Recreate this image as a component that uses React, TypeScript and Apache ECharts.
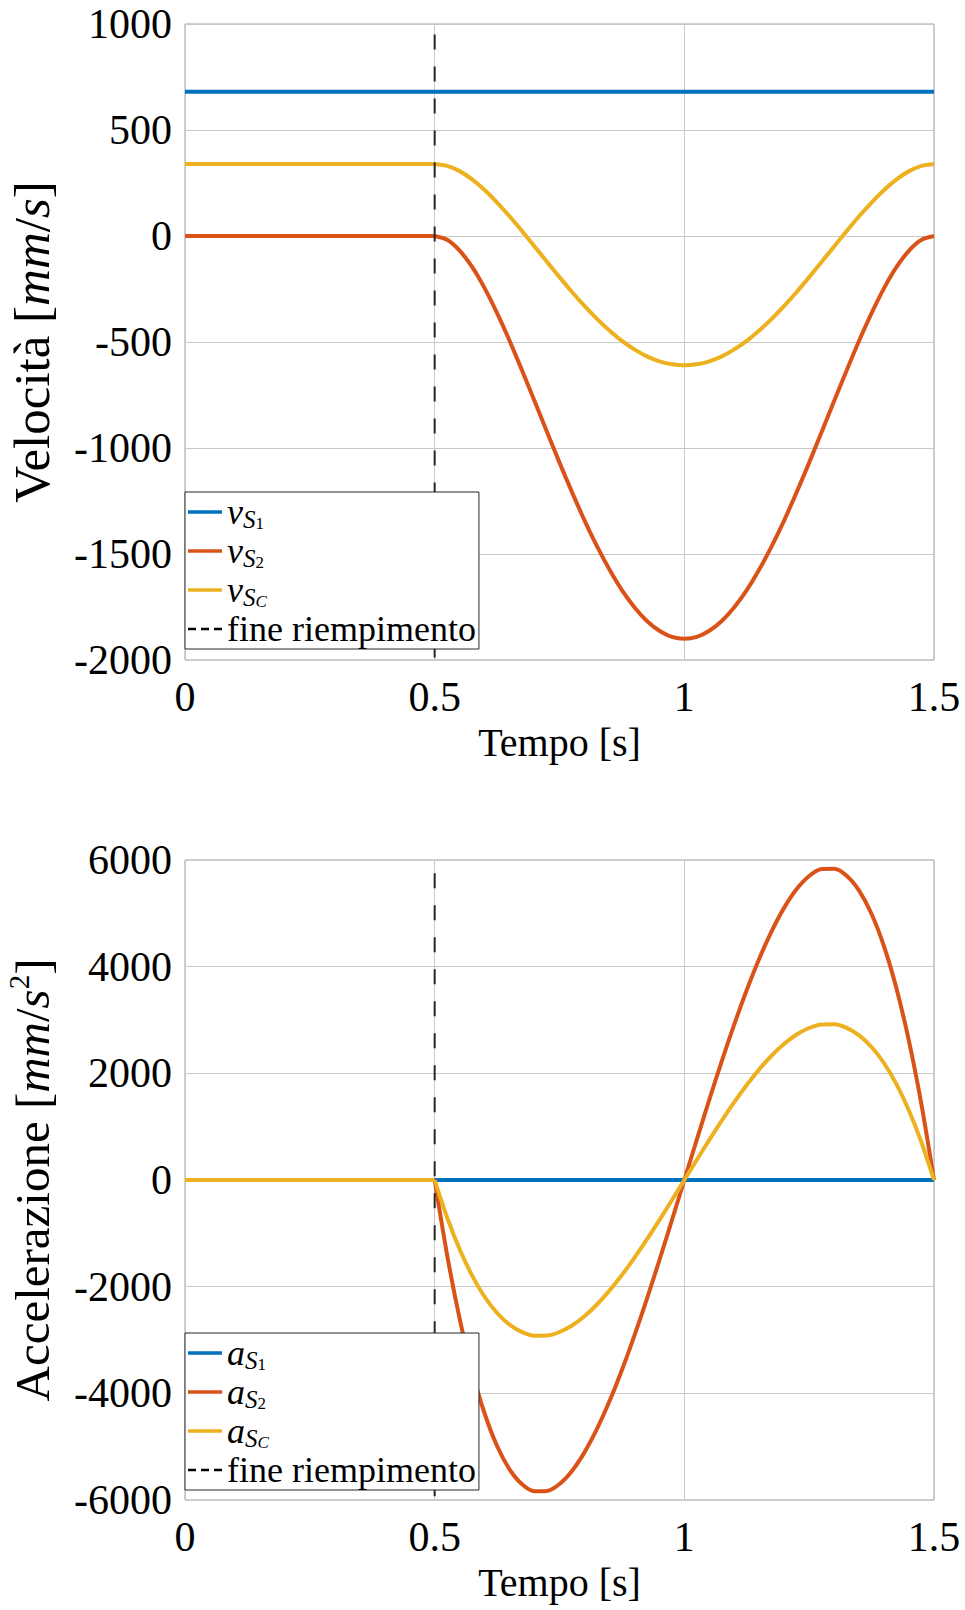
import React, { useEffect, useRef } from "react";
import * as echarts from "echarts";

const FONT = "'Liberation Serif', 'Times New Roman', serif";

// time axis
const xTicks = [0, 0.5, 1, 1.5];
const tEnd = 1.5;
const tFill = 0.5; // fine riempimento
const tMotion = [
  0.5, 0.525, 0.55, 0.575, 0.6, 0.625, 0.65, 0.675, 0.7, 0.725, 0.75,
  0.775, 0.8, 0.825, 0.85, 0.875, 0.9, 0.925, 0.95, 0.975, 1.0,
  1.025, 1.05, 1.075, 1.1, 1.125, 1.15, 1.175, 1.2, 1.225, 1.25,
  1.275, 1.3, 1.325, 1.35, 1.375, 1.4, 1.425, 1.45, 1.475, 1.5,
];

// velocities [mm/s]
const vS1Level = 680;
const vS2Rest = 0;
const vSCRest = 340;
const vS2Motion = [
  0, -18, -69, -146, -246, -364, -494, -634, -778, -924, -1069,
  -1208, -1341, -1463, -1573, -1670, -1751, -1816, -1862, -1891, -1900,
  -1891, -1862, -1816, -1751, -1670, -1573, -1463, -1341, -1208, -1069,
  -924, -778, -634, -494, -364, -246, -146, -69, -18, 0,
];
const vSCMotion = [
  340, 331, 306, 267, 217, 158, 93, 23, -49, -122, -194,
  -264, -330, -391, -446, -495, -535, -568, -591, -605, -610,
  -605, -591, -568, -535, -495, -446, -391, -330, -264, -194,
  -122, -49, 23, 93, 158, 217, 267, 306, 331, 340,
];

// accelerations [mm/s^2]
const aS1Level = 0;
const aS2Rest = 0;
const aSCRest = 0;
const aS2Motion = [
  0, -1408, -2599, -3585, -4378, -4988, -5426, -5706, -5837, -5831, -5700,
  -5455, -5107, -4668, -4150, -3563, -2918, -2229, -1505, -758, 0,
  758, 1505, 2229, 2918, 3563, 4150, 4668, 5107, 5455, 5700,
  5831, 5837, 5706, 5426, 4988, 4378, 3585, 2599, 1408, 0,
];
const aSCMotion = [
  0, -704, -1300, -1793, -2189, -2494, -2713, -2853, -2919, -2916, -2850,
  -2728, -2554, -2334, -2075, -1782, -1459, -1115, -753, -379, 0,
  379, 753, 1115, 1459, 1782, 2075, 2334, 2554, 2728, 2850,
  2916, 2919, 2853, 2713, 2494, 2189, 1793, 1300, 704, 0,
];

// dashed marker extents
const dashVel = [950, -2000];
const dashAcc = [5750, -6000];

// axis ranges
const velTicks = [-2000, -1500, -1000, -500, 0, 500, 1000];
const accTicks = [-6000, -4000, -2000, 0, 2000, 4000, 6000];

const BLUE = "#0072BD";
const RED = "#D95319";
const YELLOW = "#EDB120";
const DARK = "#262626";

const restSeg = (rest: number) => [
  [0, rest],
  [tFill, rest],
];
const motionSeg = (motion: number[]) => tMotion.map((t, i) => [t, motion[i]]);

export default function App() {
  const ref = useRef<HTMLDivElement>(null);

  useEffect(() => {
    if (!ref.current) return;
    const chart = echarts.init(ref.current, undefined, { renderer: "svg" });

    const lineSeries = (
      name: string,
      data: number[][],
      color: string,
      idx: number,
      smooth: number | boolean = false
    ) => ({
      name,
      type: "line",
      xAxisIndex: idx,
      yAxisIndex: idx,
      data,
      smooth,
      smoothConstraint: false,
      symbol: "none",
      silent: true,
      lineStyle: { color, width: 4 },
      itemStyle: { color },
    });

    const dashSeries = (ext: number[], idx: number) => ({
      name: "fine riempimento",
      type: "line",
      xAxisIndex: idx,
      yAxisIndex: idx,
      data: [
        [tFill, ext[0]],
        [tFill, ext[1]],
      ],
      symbol: "none",
      silent: true,
      lineStyle: { color: DARK, width: 2, type: [15, 17] },
      itemStyle: { color: DARK },
    });

    const legendRich = {
      m: { fontFamily: FONT, fontSize: 36, fontStyle: "italic", lineHeight: 40, color: "#000" },
      s: { fontFamily: FONT, fontSize: 25, fontStyle: "italic", lineHeight: 13, verticalAlign: "bottom", color: "#000" },
      n: { fontFamily: FONT, fontSize: 17, lineHeight: 8, verticalAlign: "bottom", color: "#000" },
      c: { fontFamily: FONT, fontSize: 17, fontStyle: "italic", lineHeight: 8, verticalAlign: "bottom", color: "#000" },
      t: { fontFamily: FONT, fontSize: 36, lineHeight: 40, color: "#000" },
    };
    const legendLabels: Record<string, string> = {
      vS1: "{m|v}{s|S}{n|1}",
      vS2: "{m|v}{s|S}{n|2}",
      vSC: "{m|v}{s|S}{c|C}",
      aS1: "{m|a}{s|S}{n|1}",
      aS2: "{m|a}{s|S}{n|2}",
      aSC: "{m|a}{s|S}{c|C}",
      "fine riempimento": "{t|fine riempimento}",
    };
    const dashIcon = "path://M0 0h8v2.5h-8zM13 0h8v2.5h-8zM26 0h8v2.5h-8z";

    const legendFor = (names: string[], top: number) => ({
      orient: "vertical",
      left: 185,
      top,
      padding: [2, 3, 2, 3],
      itemGap: 1,
      itemWidth: 34,
      itemHeight: 3.5,
      selectedMode: false,
      backgroundColor: "#ffffff",
      borderColor: DARK,
      borderWidth: 1,
      borderRadius: 0,
      data: names.map((n) =>
        n === "fine riempimento"
          ? { name: n, icon: dashIcon, itemStyle: { color: "#000" } }
          : { name: n, icon: "rect" }
      ),
      formatter: (name: string) => legendLabels[name] || name,
      textStyle: { fontFamily: FONT, fontSize: 36, color: "#000", rich: legendRich },
    });

    const xAxisFor = (idx: number) => ({
      type: "value",
      gridIndex: idx,
      min: xTicks[0],
      max: tEnd,
      interval: 0.5,
      axisLine: { show: false },
      axisTick: { show: false },
      splitLine: { show: true, lineStyle: { color: "#c8c8c8", width: 1 } },
      axisLabel: {
        fontFamily: FONT,
        fontSize: 42,
        color: "#000",
        margin: 16,
        formatter: (v: number) => String(v),
      },
      name: "Tempo [s]",
      nameLocation: "middle",
      nameGap: 62,
      nameTextStyle: { fontFamily: FONT, fontSize: 40, color: "#000" },
    });

    const yAxisFor = (idx: number, ticks: number[], name: string, fs: number) => ({
      type: "value",
      gridIndex: idx,
      min: ticks[0],
      max: ticks[ticks.length - 1],
      interval: ticks[1] - ticks[0],
      axisLine: { show: false },
      axisTick: { show: false },
      splitLine: { show: true, lineStyle: { color: "#c8c8c8", width: 1 } },
      axisLabel: {
        fontFamily: FONT,
        fontSize: 42,
        color: "#000",
        margin: 13,
        formatter: (v: number) => String(v),
      },
      name,
      nameLocation: "middle",
      nameGap: 125,
      nameTextStyle: {
        fontFamily: FONT,
        fontSize: fs,
        color: "#000",
        rich: {
          r: { fontFamily: FONT, fontSize: fs, lineHeight: 56, color: "#000" },
          i: { fontFamily: FONT, fontSize: fs, fontStyle: "italic", lineHeight: 56, color: "#000" },
          sup: { fontFamily: FONT, fontSize: 29, lineHeight: 37, verticalAlign: "top", color: "#000" },
        },
      },
    });

    const gridBase = {
      left: 185,
      width: 749,
      show: true,
      borderColor: "#a0a0a0",
      borderWidth: 1,
      backgroundColor: "transparent",
      containLabel: false,
      outerBoundsMode: "none",
    };

    chart.setOption({
      animation: false,
      backgroundColor: "#ffffff",
      grid: [
        { ...gridBase, top: 24, height: 636 },
        { ...gridBase, top: 860, height: 640 },
      ],
      xAxis: [xAxisFor(0), xAxisFor(1)],
      yAxis: [
        yAxisFor(0, velTicks, "{r|Velocità [}{i|mm}{r|/}{i|s}{r|]}", 51),
        yAxisFor(1, accTicks, "{r|Accelerazione [}{i|mm}{r|/}{i|s}{sup|2}{r|]}", 49),
      ],
      legend: [
        legendFor(["vS1", "vS2", "vSC", "fine riempimento"], 492),
        legendFor(["aS1", "aS2", "aSC", "fine riempimento"], 1333),
      ],
      series: [
        lineSeries("vS1", [[0, vS1Level], [tEnd, vS1Level]], BLUE, 0),
        lineSeries("vS2", restSeg(vS2Rest), RED, 0),
        lineSeries("vS2", motionSeg(vS2Motion), RED, 0, 0.3),
        lineSeries("vSC", restSeg(vSCRest), YELLOW, 0),
        lineSeries("vSC", motionSeg(vSCMotion), YELLOW, 0, 0.3),
        dashSeries(dashVel, 0),
        lineSeries("aS1", [[0, aS1Level], [tEnd, aS1Level]], BLUE, 1),
        lineSeries("aS2", restSeg(aS2Rest), RED, 1),
        lineSeries("aS2", motionSeg(aS2Motion), RED, 1, 0.3),
        lineSeries("aSC", restSeg(aSCRest), YELLOW, 1),
        lineSeries("aSC", motionSeg(aSCMotion), YELLOW, 1, 0.3),
        dashSeries(dashAcc, 1),
      ],
    });

    return () => chart.dispose();
  }, []);

  return (
    <div
      ref={ref}
      style={{ position: "absolute", left: 0, top: 0, width: 965, height: 1610, background: "#fff" }}
    />
  );
}
